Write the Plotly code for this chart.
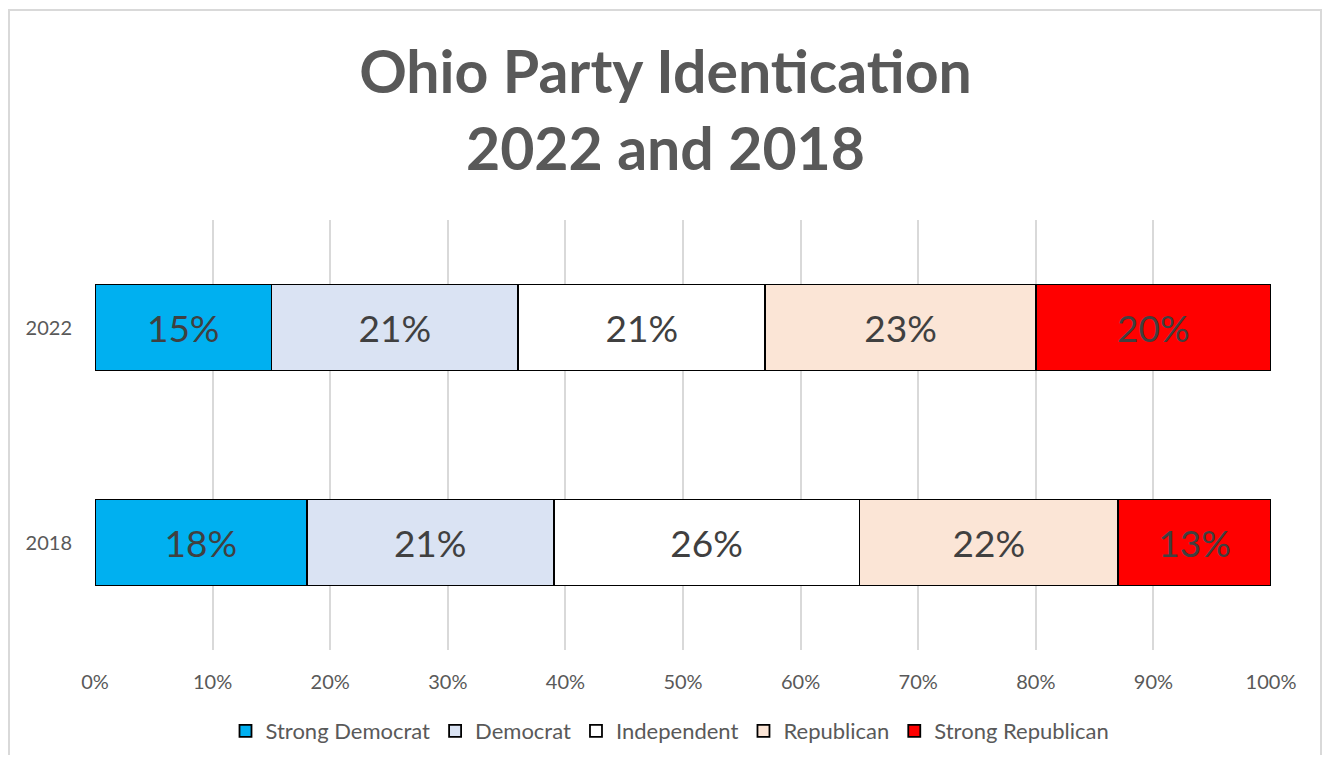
import plotly.graph_objects as go

years = ['2022', '2018']
parties = ['Strong Democrat', 'Democrat', 'Independent', 'Republican', 'Strong Republican']
colors = ['#00B0F0', '#DAE3F3', '#FFFFFF', '#FBE5D6', '#FF0000']
values = {
    'Strong Democrat': [15, 18],
    'Democrat': [21, 21],
    'Independent': [21, 26],
    'Republican': [23, 22],
    'Strong Republican': [20, 13],
}
x_ticks = [0, 10, 20, 30, 40, 50, 60, 70, 80, 90, 100]

FONT = 'Lato'
W, H = 1315, 747
L, R, T, B = 87, 52, 212, 105
plot_w = W - L - R
plot_h = H - T - B

fig = go.Figure()

for party, color in zip(parties, colors):
    vals = values[party]
    fig.add_trace(go.Bar(
        y = years,
        x = vals,
        name = party,
        orientation = 'h',
        width = 0.4,
        marker = dict(color = color, line = dict(color = 'black', width = 1.8)),
        text = [f'{v}%' for v in vals],
        textposition = 'inside',
        insidetextanchor = 'middle',
        textangle = 0,
        constraintext = 'none',
        textfont = dict(family = FONT, size = 37, color = '#404040'),
        hovertemplate = party + ': %{x}%<extra></extra>'
    ))

# page body has an 8px margin, figure kept small enough to avoid scrollbars
fig.update_layout(
    width = W,
    height = H,
    barmode = 'stack',
    plot_bgcolor = 'white',
    paper_bgcolor = 'white',
    font = dict(family = FONT, color = '#595959'),
    margin = dict(l = L, r = R, t = T, b = B, autoexpand = False),
    title = dict(
        text = '<b>Ohio Party Identication<br>2022 and 2018</b>',
        x = 0.5,
        xanchor = 'center',
        y = 1 - 85 / H,
        yanchor = 'middle',
        yref = 'container',
        font = dict(family = FONT, size = 59, color = '#595959')
    ),
    legend = dict(
        orientation = 'h',
        traceorder = 'normal',
        xref = 'container',
        yref = 'container',
        x = (670 - 8) / W,
        xanchor = 'center',
        y = 1 - (731 - 8) / H,
        yanchor = 'middle',
        font = dict(family = FONT, size = 22, color = '#595959'),
        itemwidth = 30,
    ),
    shapes = [dict(
        type = 'rect', xref = 'paper', yref = 'paper',
        x0 = (1 - L) / plot_w, x1 = (W - 2 - L) / plot_w,
        y0 = -(B + 20) / plot_h, y1 = (plot_h + T - 2) / plot_h,
        line = dict(color = '#D9D9D9', width = 2),
        layer = 'below'
    )]
)

fig.update_xaxes(
    range = [0, 100],
    tickvals = x_ticks,
    ticktext = [f'{t}%' for t in x_ticks],
    showgrid = True,
    gridcolor = '#D9D9D9',
    gridwidth = 2,
    zeroline = False,
    showline = False,
    ticklabelstandoff = 18,
    tickfont = dict(family = FONT, size = 20, color = '#595959'),
    fixedrange = True
)

fig.update_yaxes(
    categoryorder = 'array',
    categoryarray = ['2018', '2022'],
    range = [-0.5, 1.5],
    showgrid = False,
    zeroline = False,
    showline = False,
    ticklabelstandoff = 22,
    tickfont = dict(family = FONT, size = 20, color = '#595959'),
    fixedrange = True
)

fig.write_html("out.html")
